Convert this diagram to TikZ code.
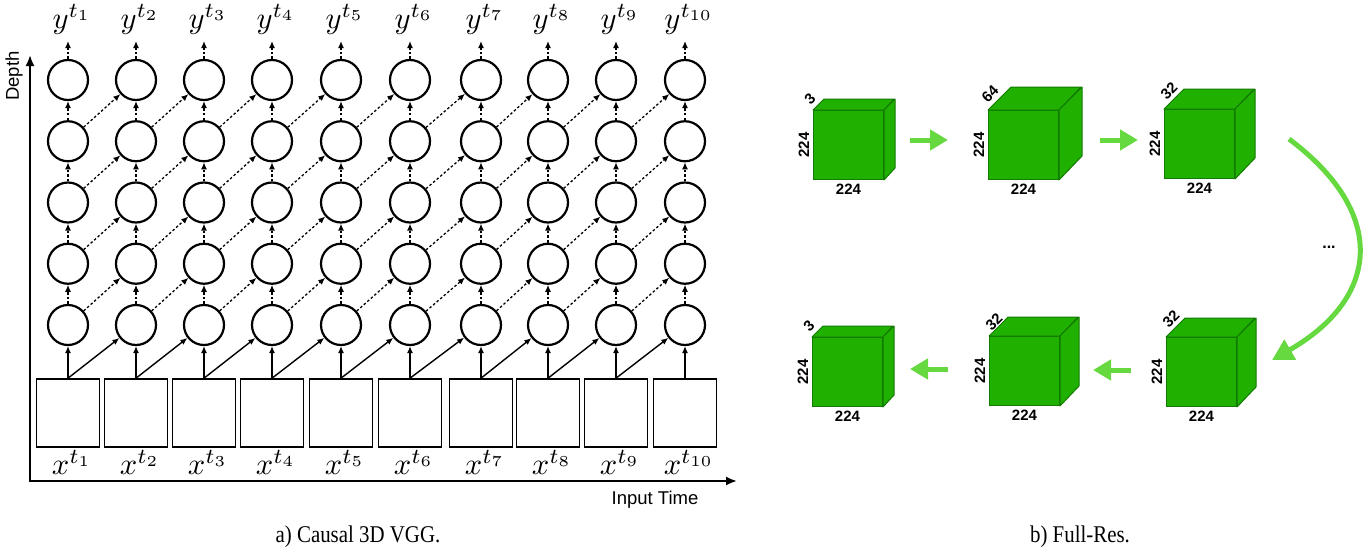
\documentclass[tikz,border=0pt]{standalone}
\usepackage{fontspec}
\newfontfamily\sansf{Liberation Sans}
\newfontfamily\seriff{Liberation Serif}
\usetikzlibrary{arrows.meta}

\definecolor{cubegreen}{RGB}{31,176,0}
\definecolor{cubeedge}{RGB}{18,122,0}
\definecolor{arrgreen}{RGB}{102,217,64}

% name, x, y (front top-left), depth, depth label, label x-shift, label y-shift
\newcommand\greencube[7]{%
  \node[cubefront, anchor=north west] (#1) at (#2,#3) {};
  \filldraw[cubeface] (#1.north west) -- ++(#4,-#4) -- ++(70,0) -- (#1.north east) -- cycle;
  \filldraw[cubeface] (#1.north east) -- ++(#4,-#4) -- ++(0,69) -- (#1.south east) -- cycle;
  \node[cubelbl, rotate=90] (#1-h) at ([xshift=-9pt]#1.west) {224};
  \node[cubelbl] (#1-w) at ([yshift=-9pt]#1.south) {224};
  \node[cubelbl, rotate=45, fill=white, inner sep=0.5pt] (#1-d) at ([xshift=#6pt,yshift=#7pt]#1.north west) {#5};
}
\newcommand\bigmath[1]{\scalebox{3.05}{$#1$}}

\begin{document}
\begin{tikzpicture}[x=1pt,y=-1pt,
  neuron/.style={circle, draw, line width=2.2pt, minimum size=40pt, inner sep=0pt},
  inbox/.style={draw, line width=1.6pt, minimum width=63pt, minimum height=68pt, inner sep=0pt},
  solidarr/.style={line width=1.4pt, -{Latex[length=7pt,width=6pt]}},
  dotarr/.style={line width=1.3pt, dash pattern=on 2.5pt off 2.2pt, -{Latex[length=7pt,width=6pt]}},
  axisarr/.style={line width=2pt, {Latex[length=11pt,width=9pt]}-{Latex[length=11pt,width=9pt]}},
  mlabel/.style={inner sep=0pt},
  sanslbl/.style={font=\sansf\fontsize{18.5}{22}\selectfont, inner sep=0pt},
  caption/.style={font=\seriff\fontsize{24}{28}\selectfont, inner sep=0pt},
  cubefront/.style={draw=cubeedge, fill=cubegreen, line width=1pt, minimum width=70pt, minimum height=69pt, inner sep=0pt},
  cubeface/.style={draw=cubeedge, fill=cubegreen, line width=1pt, line join=round},
  cubelbl/.style={font=\sansf\bfseries\fontsize{15}{18}\selectfont, inner sep=0pt},
  greenarr/.style={draw=arrgreen, line width=5pt, -{Triangle[length=18pt,width=20pt]}},
]
\useasboundingbox (0,0) rectangle (1366,554);

% ---------- a) Causal 3D VGG ----------
\foreach \i/\x in {1/68,2/136,3/204,4/272,5/341,6/410,7/481,8/548,9/616,10/685} {
  \foreach \r/\y in {1/325,2/263.75,3/202.5,4/141.25,5/80} {
    \node[neuron] (c\i-\r) at (\x,\y) {};
  }
  \node[inbox] (b\i) at (\x,413) {};
  \node[mlabel] (xl\i) at (\x+4,462) {\bigmath{x^{t_{\i}}}};
  \node[mlabel] (yl\i) at (\x+4,19) {\bigmath{y^{t_{\i}}}};
  \coordinate (top\i) at (\x,41);
}

\foreach \i in {1,...,10} {
  \draw[solidarr] (b\i.north) -- (c\i-1);
  \foreach \r [evaluate=\r as \rn using int(\r+1)] in {1,...,4} {
    \draw[dotarr] (c\i-\r) -- (c\i-\rn);
  }
  \draw[dotarr] (c\i-5) -- (top\i);
}
\foreach \i [evaluate=\i as \j using int(\i+1)] in {1,...,9} {
  \draw[solidarr] (b\i.north) -- (c\j-1);
  \foreach \r [evaluate=\r as \rn using int(\r+1)] in {1,...,4} {
    \draw[dotarr] (c\i-\r) -- (c\j-\rn);
  }
}

\coordinate (orig) at (30,481);
\coordinate (yend) at (30,55);
\coordinate (xend) at (737,481);
\draw[axisarr] (yend) -- (orig) -- (xend);
\node[sanslbl, rotate=90] (depth) at (14,76) {Depth};
\node[sanslbl] (itime) at (655,500) {Input Time};
\node[caption] (capa) at (358,537) {\scalebox{0.87}[1]{a) Causal 3D VGG.}};

% ---------- b) Full-Res ----------
\greencube{k1}{813}{110}{11}{3}{-3}{11}
\greencube{k2}{988}{110}{23}{64}{2}{16}
\greencube{k3}{1164}{109}{20}{32}{5}{18}
\greencube{k4}{1166}{337}{19}{32}{5}{18}
\greencube{k5}{989}{336}{19}{32}{5}{14}
\greencube{k6}{812}{337}{11}{3}{-3}{11}

\coordinate (g1s) at (910,140);  \coordinate (g1e) at (948,140);
\coordinate (g2s) at (1100,140); \coordinate (g2e) at (1138,140);
\coordinate (g3s) at (1131,370); \coordinate (g3e) at (1093,370);
\coordinate (g4s) at (948,369);  \coordinate (g4e) at (910,369);
\draw[greenarr] (g1s) -- (g1e);
\draw[greenarr] (g2s) -- (g2e);
\draw[greenarr] (g3s) -- (g3e);
\draw[greenarr] (g4s) -- (g4e);

\coordinate (cs) at (1289,139);
\coordinate (ce) at (1272,360);
\draw[greenarr, -{Triangle[length=21pt,width=22pt]}] (cs) .. controls (1388,213) and (1380,298) .. (ce);
\node[cubelbl, font=\sansf\bfseries\fontsize{16}{18}\selectfont] (dots) at (1329,247) {...};

\node[caption] (capb) at (1080,537) {\scalebox{0.87}[1]{b) Full-Res.}};
\end{tikzpicture}
\end{document}
